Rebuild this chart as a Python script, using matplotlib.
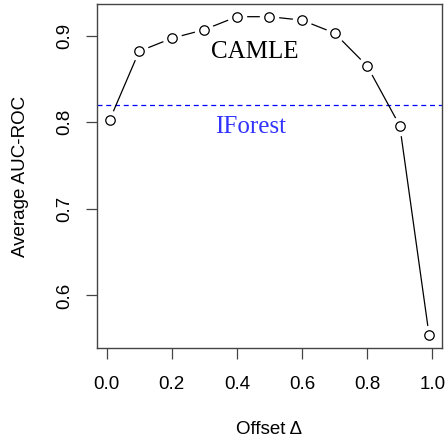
import matplotlib
matplotlib.use("Agg")
import matplotlib.pyplot as plt

# data
offsets = [0.01, 0.1, 0.2, 0.3, 0.4, 0.5, 0.6, 0.7, 0.8, 0.9, 0.99]
auc_camle = [0.803, 0.882, 0.897, 0.907, 0.922, 0.922, 0.918, 0.903, 0.865, 0.796, 0.554]
auc_iforest = 0.820

x_ticks = [0.0, 0.2, 0.4, 0.6, 0.8, 1.0]
y_ticks = [0.6, 0.7, 0.8, 0.9]

SANS = ["Liberation Sans", "DejaVu Sans"]
SERIF = ["Liberation Serif", "DejaVu Serif"]

fig = plt.figure(figsize=(4.45, 4.41), dpi=100)
ax = fig.add_axes([0.218, 0.211, 0.775, 0.780])

# R-style type="b": line with gaps round the points
ax.plot(offsets, auc_camle, color="black", lw=0.9, zorder=2)
ax.plot(offsets, auc_camle, ls="none", marker="o", ms=14, mfc="white", mec="none", zorder=3)
ax.plot(offsets, auc_camle, ls="none", marker="o", ms=6.8, mfc="white", mec="black", mew=0.9, zorder=4)

ax.axhline(auc_iforest, color="#0000ff", lw=0.9, ls=(0, (4, 3)), zorder=1)

ax.text(0.455, 0.8815, "CAMLE", family=SERIF, fontsize=18, color="black", ha="center", va="center")
ax.text(0.443, 0.795, "IForest", family=SERIF, fontsize=18, color="#3333ff", ha="center", va="center")

ax.set_xlim(-0.0292, 1.0292)
ax.set_ylim(0.5393, 0.9367)

ax.set_xticks(x_ticks)
ax.set_xticklabels([f"{v:.1f}" for v in x_ticks], family=SANS, fontsize=13.5)
ax.set_yticks(y_ticks)
ax.set_yticklabels([f"{v:.1f}" for v in y_ticks], family=SANS, fontsize=13.5,
                   rotation=90, va="center")
ax.tick_params(axis="both", direction="out", length=8, width=0.9, color="#444444")
ax.tick_params(axis="x", pad=12)
ax.tick_params(axis="y", pad=9)

for s in ax.spines.values():
    s.set_color("#444444")
    s.set_linewidth(1.0)

ax.set_xlabel("Offset Δ", family=SANS, fontsize=13.5, labelpad=20)
ax.set_ylabel("Average AUC-ROC", family=SANS, fontsize=13.5, labelpad=20)

fig.savefig("out.png", dpi=100)
